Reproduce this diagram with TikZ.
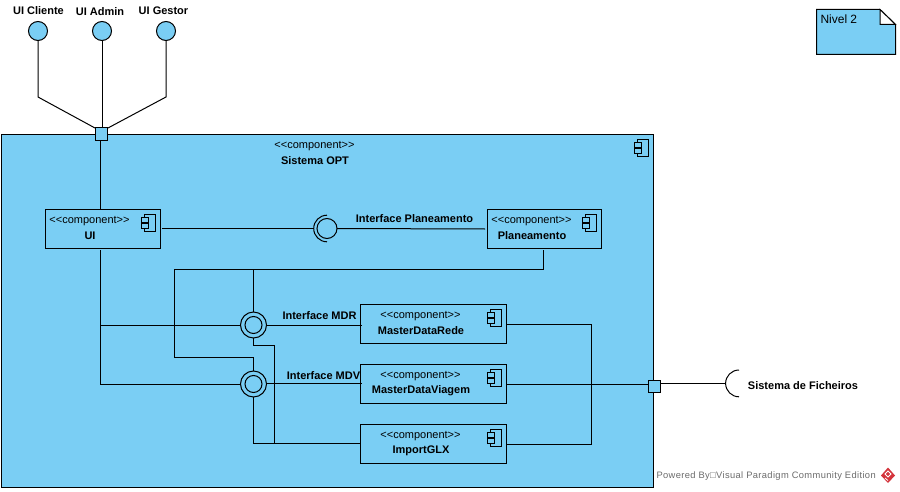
\documentclass[tikz,border=0pt]{standalone}
\usepackage{fontspec}
\setmainfont{Liberation Sans}
\newfontfamily\wmfont[LetterSpace=4]{Liberation Sans}
\newfontfamily\stfont[Ligatures=NoCommon]{Liberation Sans}
\definecolor{umlblue}{HTML}{7ACEF4}
\definecolor{vpred}{HTML}{D4343C}
\newcommand{\stereotxt}{{<}{<}component{>}{>}}
\tikzset{
  every node/.style={inner sep=0pt,outer sep=0pt},
  conn/.style={draw=black,line width=0.75pt},
  boxs/.style={draw=black,line width=0.75pt,fill=umlblue,rectangle},
  compbox/.style={boxs,minimum width=#1*0.75pt,minimum height=39*0.75pt},
  portbox/.style={boxs,minimum width=12*0.75pt,minimum height=12*0.75pt},
  lolly/.style={draw=black,line width=0.75pt,fill=umlblue,circle,minimum size=19*0.75pt},
  ring/.style={draw=black,line width=0.75pt,fill=umlblue,circle,minimum size=26*0.75pt},
  bname/.style={font=\fontsize{8.25pt}{10pt}\selectfont\bfseries,text=black,yshift=-0.75pt},
  stereo/.style={font=\fontsize{8.25pt}{10pt}\stfont,text=black,yshift=-1.1pt},
  iconl/.style={draw=black,line width=0.75pt,fill=umlblue},
}
\newcommand{\compicon}[1]{%
  \path (#1.north east) coordinate (ic);
  \begin{scope}[shift={(ic)}]
    \draw[iconl] (-16,5) rectangle (-5,22);
    \draw[iconl] (-19,8) rectangle (-12,13);
    \draw[iconl] (-19,14) rectangle (-12,19);
  \end{scope}
}
\begin{document}
\begin{tikzpicture}[x=0.75pt,y=-0.75pt]
\useasboundingbox (0,0) rectangle (900,492);
\fill[white] (0,0) rectangle (900,492);

% Container
\node[boxs,minimum width=652.5*0.75pt,minimum height=353.5*0.75pt] (sys) at (327.3,311) {};
\compicon{sys}
\node[stereo] (sysS) at (314.5,145) {\stereotxt};
\node[bname] (sysN) at (315,160) {Sistema OPT};

% Components
\node[compbox=115] (ui) at (102.5,228.5) {};
\node[compbox=114] (plan) at (544,229) {};
\node[compbox=146] (mdr) at (433.5,324) {};
\node[compbox=146] (mdv) at (433.5,384) {};
\node[compbox=146] (glx) at (433.5,444) {};
\foreach \c in {ui,plan,mdr,mdv,glx}{\compicon{\c}}
\node[stereo] (uiS) at (89.5,220) {\stereotxt};
\node[bname] (uiN) at (90,235) {UI};
\node[stereo] (planS) at (531.5,220) {\stereotxt};
\node[bname] (planN) at (532,235) {Planeamento};
\node[stereo] (mdrS) at (420.5,315) {\stereotxt};
\node[bname] (mdrN) at (421,330) {MasterDataRede};
\node[stereo] (mdvS) at (420.5,375) {\stereotxt};
\node[bname] (mdvN) at (421,390) {MasterDataViagem};
\node[stereo] (glxS) at (420.5,435) {\stereotxt};
\node[bname] (glxN) at (421,450) {ImportGLX};

% Ports
\node[portbox] (ptop) at (101,134) {};
\node[portbox] (pright) at (654.5,386) {};

% Lollipops
\node[lolly] (cli) at (38,31) {};
\node[lolly] (adm) at (102,31) {};
\node[lolly] (ges) at (166,31) {};
\node[bname] (cliL) at (38.5,10) {UI Cliente};
\node[bname] (admL) at (100,11) {UI Admin};
\node[bname] (gesL) at (163.5,10) {UI Gestor};

\coordinate (cliB) at (38,97);
\coordinate (gesB) at (166,97);
\coordinate (ptopL) at (95,128);
\coordinate (ptopR) at (108,128);
\coordinate (ptopM) at (102,128);
\draw[conn] (cli.south) -- (cliB) -- (ptopL);
\draw[conn] (adm.south) -- (ptopM);
\draw[conn] (ges.south) -- (gesB) -- (ptopR);
\coordinate (uiTop) at (100,209);
\coordinate (ptopB) at (100,140);
\draw[conn] (ptopB) -- (uiTop);

% Interface sockets (rings)
\node[ring] (imdr) at (253.5,325) {};
\node[draw=black,line width=0.75pt,circle,minimum size=17*0.75pt] (imdrI) at (253.5,325) {};
\node[ring] (imdv) at (253.5,384) {};
\node[draw=black,line width=0.75pt,circle,minimum size=17*0.75pt] (imdvI) at (253.5,384) {};
\node[bname] (imdrL) at (319.5,315) {Interface MDR};
\node[bname] (imdvL) at (323.5,375) {Interface MDV};

% Interface Planeamento
\node[draw=black,line width=0.75pt,circle,minimum size=20*0.75pt,fill=umlblue] (ipl) at (327,228.5) {};
\coordinate (iplArcTop) at (327,215.2);
\draw[conn] (iplArcTop) arc[start angle=90,end angle=270,radius=13.3*0.75pt];
\node[bname] (iplL) at (414.5,218) {Interface Planeamento};

\coordinate (iplArcL) at (314,228.5);
\draw[conn] ([xshift=1.5pt]ui.east) -- (iplArcL);
\draw[conn] (ipl.east) -- ([xshift=-1.5pt]plan.west);

% UI down to MDR / MDV
\coordinate (uiB) at (100,250);
\coordinate (uiJ1) at (100,325);
\coordinate (uiJ2) at (100,384);
\draw[conn] (uiB) -- (uiJ2) -- (imdv.west);
\draw[conn] (uiJ1) -- (imdr.west);

% Planeamento to MDR / MDV
\coordinate (plB) at (543,250);
\coordinate (plC) at (543,269);
\coordinate (midT) at (253.5,269);
\coordinate (lT) at (174,269);
\coordinate (lB) at (174,357.5);
\coordinate (mB) at (253.5,357.5);
\draw[conn] (plB) -- (plC) -- (lT) -- (lB) -- (mB) -- (imdv.north);
\draw[conn] (midT) -- (imdr.north);

% Rings to ImportGLX
\coordinate (a1) at (253.5,345);
\coordinate (a2) at (274,345);
\coordinate (a3) at (274,443.5);
\coordinate (a4) at (253.5,443.5);
\coordinate (glxW) at (360.5,443.5);
\draw[conn] (imdr.south) -- (a1) -- (a2) -- (a3);
\draw[conn] (imdv.south) -- (a4) -- (glxW);

% Rings to MasterData
\coordinate (mdrW) at (361.5,325);
\coordinate (mdvW) at (361.5,383.5);
\draw[conn] (imdr.east) -- (mdrW);
\draw[conn] (imdv.east |- mdvW) -- (mdvW);

% Right side
\coordinate (r1) at (591,324);
\coordinate (r2) at (591,444);
\coordinate (pL) at (648.5,384);
\draw[conn] (mdr.east) -- (r1) -- (r2) -- (glx.east);
\draw[conn] (mdv.east) -- (pL);

% Sistema de Ficheiros
\coordinate (sockL) at (725.5,383.3);
\coordinate (pR) at (660.5,383.3);
\coordinate (sockTop) at (739,370);
\draw[conn] (pR) -- (sockL);
\draw[conn] (sockTop) arc[start angle=90,end angle=270,radius=13.4*0.75pt];
\node[bname] (sfL) at (803,385) {Sistema de Ficheiros};

% Note
\draw[boxs] (816.5,9.5) -- (880,9.5) -- (895.5,24.5) -- (895.5,54.5) -- (816.5,54.5) -- cycle;
\fill[white] (880,9.5) -- (895.5,24.5) -- (880,24.5) -- cycle;
\draw[conn] (880,9.5) -- (880,24.5) -- (895.5,24.5) -- cycle;
\node[anchor=west,font=\fontsize{9pt}{11pt}\selectfont,text=black] (note) at (820.5,19.5) {Nivel 2};

% Watermark
\node[anchor=west,text=black!58,font=\fontsize{7pt}{9pt}\wmfont] (wm) at (656.5,476) {Powered By□Visual Paradigm Community Edition};
\fill[vpred] (888,467.5) -- (895,475.5) -- (888,483) -- (881,475.5) -- cycle;
\draw[white,line width=0.6pt] (885,474) -- (888,471) -- (891,474) -- (888,477) -- cycle;
\draw[white,line width=0.6pt] (885,478) -- (888,480.5);
\end{tikzpicture}
\end{document}
